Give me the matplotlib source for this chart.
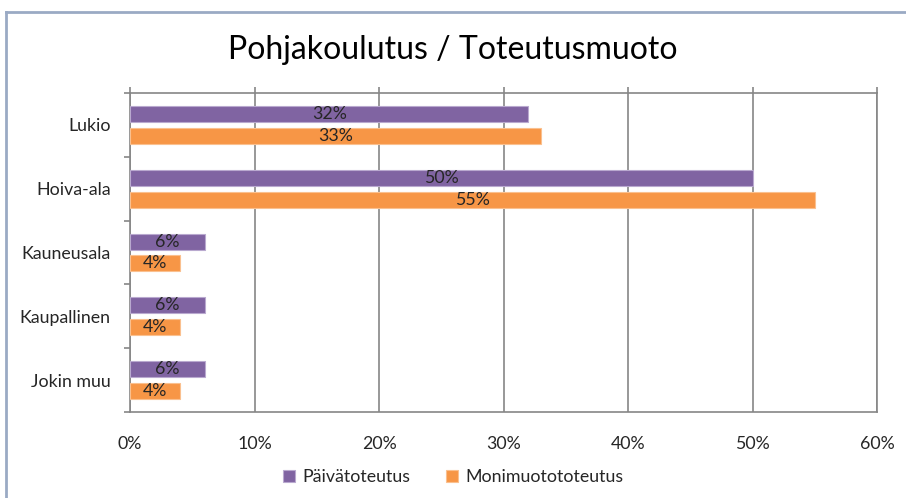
import numpy as np
import matplotlib
matplotlib.use("Agg")
import matplotlib.pyplot as plt
from matplotlib.lines import Line2D
from matplotlib.ticker import FuncFormatter

plt.rcParams["font.family"] = ["Lato", "DejaVu Sans"]

# ---------------------------------------------------------------------------
# Data
# ---------------------------------------------------------------------------
categories = ["Lukio", "Hoiva-ala", "Kauneusala", "Kaupallinen", "Jokin muu"]
paiva = [32, 50, 6, 6, 6]
monimuoto = [33, 55, 4, 4, 4]
series_names = ["Päivätoteutus", "Monimuotototeutus"]

PURPLE = "#8064A2"
ORANGE = "#F79646"
GRID = "#868686"
TEXT = "#262626"
FS = 12.8

fig = plt.figure(figsize=(9.06, 4.98), dpi=100)

# chart frame: only left and top edges are visible in the crop
x0, y0 = 5.5 / 906, 1 - 12.5 / 498
fig.add_artist(Line2D([x0, x0], [0, y0], transform=fig.transFigure,
                      color="#9AAAC4", lw=2.0))
fig.add_artist(Line2D([x0, 1], [y0, y0], transform=fig.transFigure,
                      color="#9AAAC4", lw=2.0))

ax = fig.add_axes([130 / 906, 1 - 412 / 498, (877 - 130) / 906, (412 - 93) / 498])

y = np.arange(len(categories))
h = 0.25
off = 0.172
b1 = ax.barh(y - off, paiva, h, color=PURPLE, edgecolor="#B9A9CF", lw=0.8,
             label=series_names[0], zorder=3)
b2 = ax.barh(y + off, monimuoto, h, color=ORANGE, edgecolor="#FAC08F", lw=0.8,
             label=series_names[1], zorder=3)

for bars, vals in [(b1, paiva), (b2, monimuoto)]:
    for bar, v in zip(bars, vals):
        ax.text(v / 2, bar.get_y() + bar.get_height() / 2, f"{v}%",
                ha="center", va="center", fontsize=FS, color=TEXT, zorder=4)

ax.set_xlim(0, 60)
ax.set_ylim(len(categories) - 0.5, -0.5)
ax.set_xticks(np.arange(0, 61, 10))
ax.xaxis.set_major_formatter(FuncFormatter(lambda v, _: f"{v:.0f}%"))
ax.tick_params(axis="x", top=True, bottom=False, labeltop=False, labelbottom=True,
               length=4.5, width=1.2, color=GRID, pad=13, labelsize=FS,
               labelcolor=TEXT)

ax.set_yticks(np.arange(-0.5, len(categories), 1.0))
ax.set_yticklabels([])
ax.set_yticks(y, minor=True)
ax.set_yticklabels(categories, minor=True)
ax.tick_params(axis="y", which="major", left=True, length=4.5, width=1.2, color=GRID)
ax.tick_params(axis="y", which="minor", length=0, pad=14, labelsize=FS,
               labelcolor=TEXT)

ax.grid(axis="x", color=GRID, lw=1.2, zorder=0)
for s in ax.spines.values():
    s.set_color(GRID)
    s.set_linewidth(1.2)

fig.text(0.5, 1 - 50 / 498, "Pohjakoulutus / Toteutusmuoto", ha="center",
         va="center", fontsize=23, color="black")

fig.legend(handles=[b1, b2], labels=series_names, loc="center",
           bbox_to_anchor=(0.5, 1 - 477 / 498), ncol=2, frameon=False,
           fontsize=FS, handlelength=0.7, handleheight=0.7,
           handletextpad=0.4, columnspacing=2.0, labelcolor=TEXT)

fig.savefig("out.png", dpi=100)
